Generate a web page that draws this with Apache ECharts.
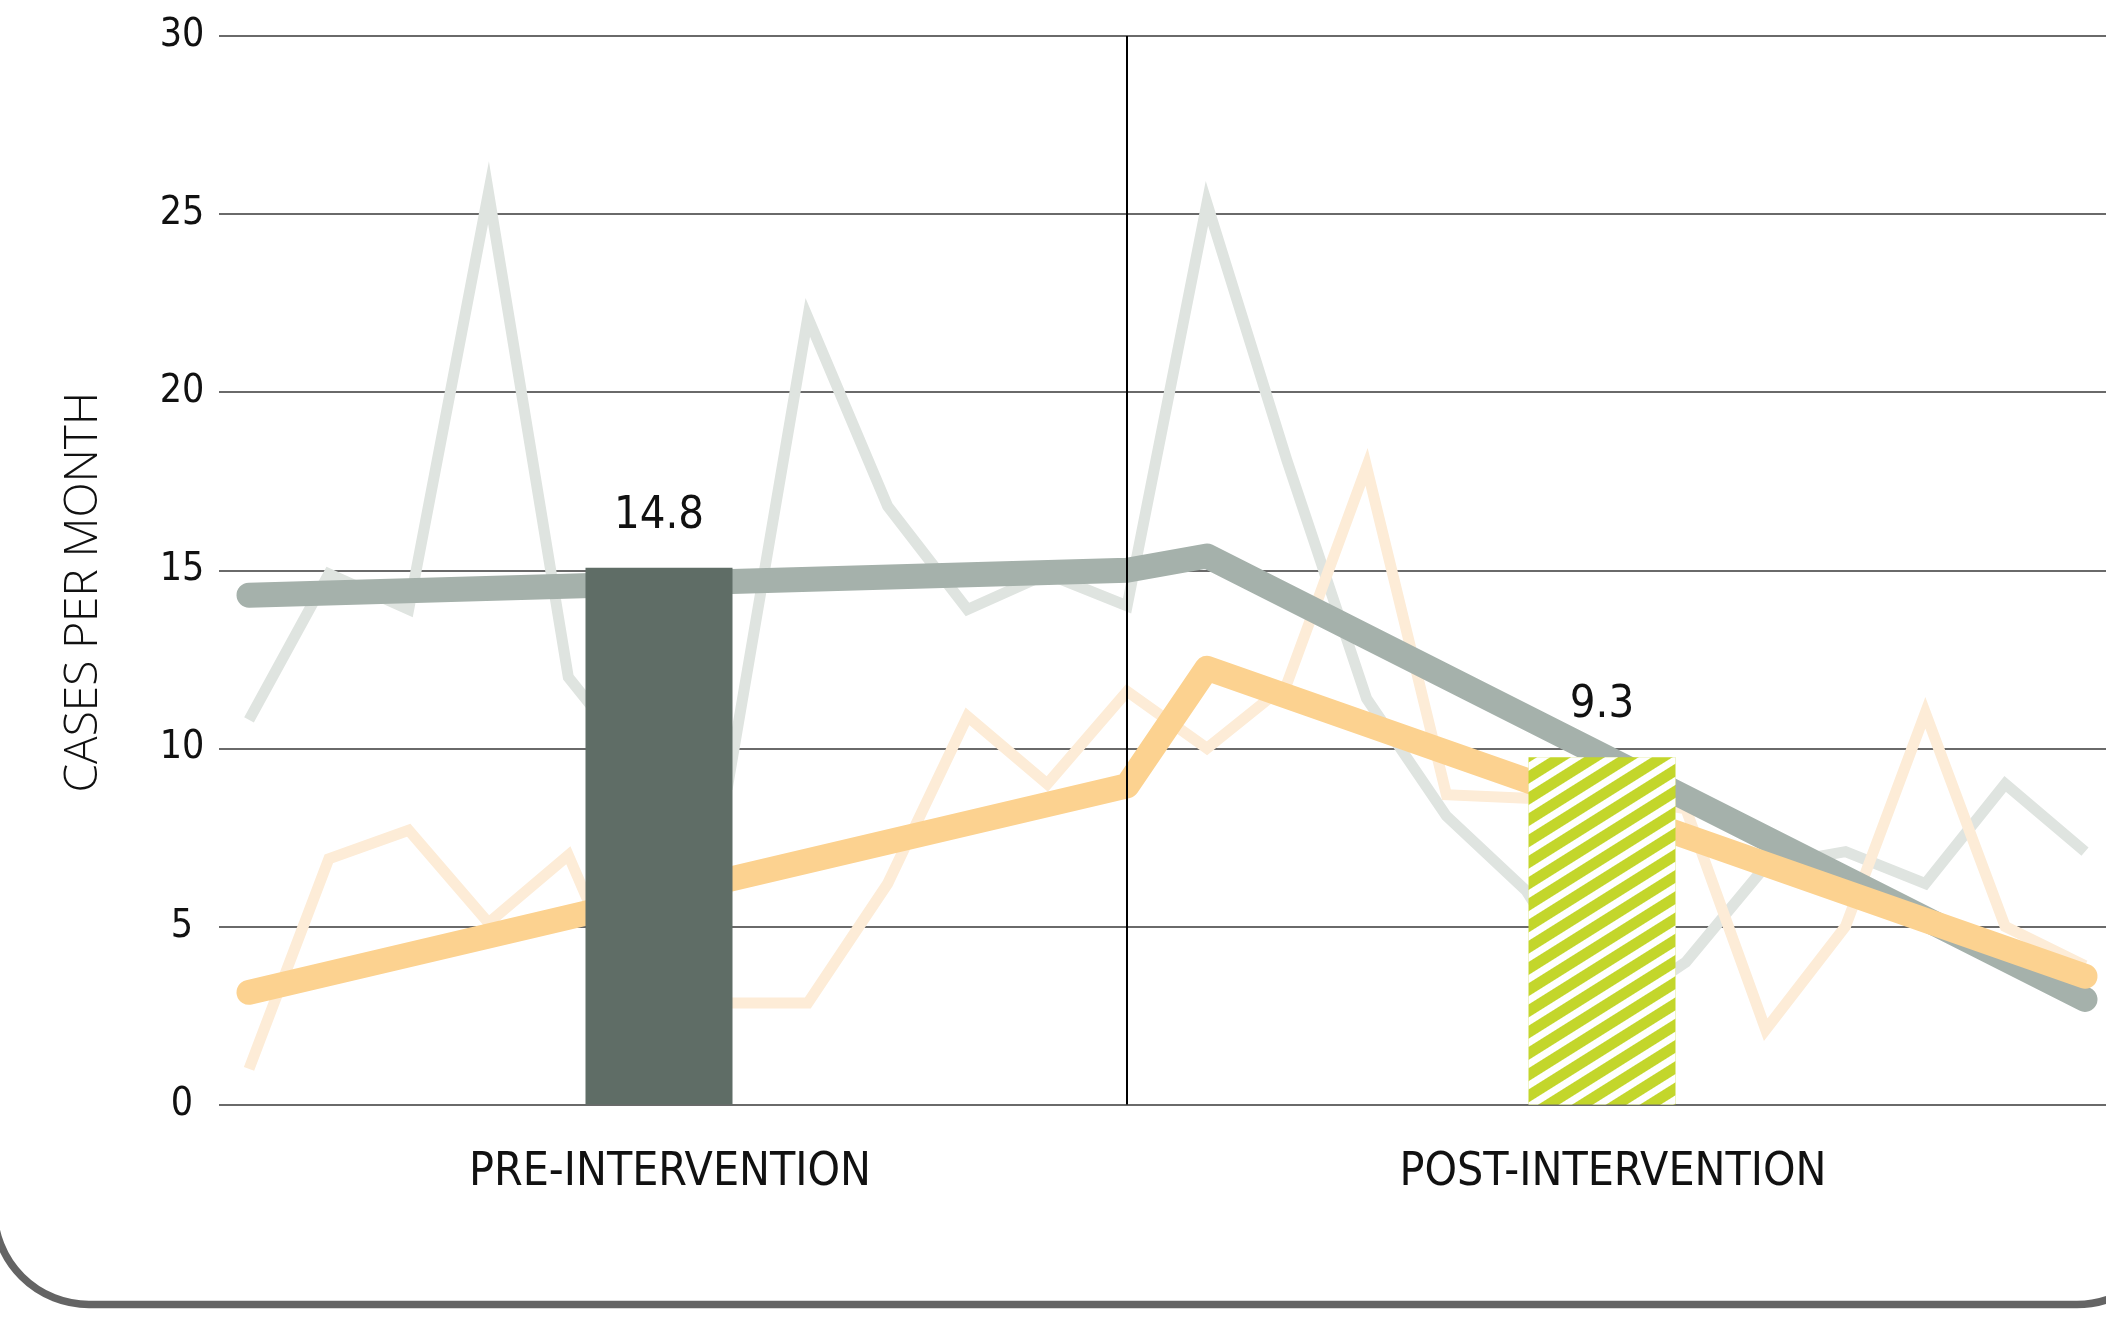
<!DOCTYPE html>
<html>
<head>
<meta charset="utf-8">
<title>Cases per month</title>
<script src="https://cdn.jsdelivr.net/npm/echarts@6/dist/echarts.min.js"></script>
<style>
  html, body { margin: 0; padding: 0; background: #fff; }
  #chart { width: 2106px; height: 1327px; }
</style>
</head>
<body>
<div id="chart"></div>
<script>
// monthly case counts, months 1-12 before the intervention, 13-24 after
const months = [1, 2, 3, 4, 5, 6, 7, 8, 9, 10, 11, 12, 13, 14, 15, 16, 17, 18, 19, 20, 21, 22, 23, 24]
const grayMonthly = [10.8, 14.9, 13.9, 25.6, 12.0, 9.2, 9.0, 22.1, 16.8, 13.9, 14.9, 14.0,
                     25.3, 18.1, 11.4, 8.1, 6.0, 2.5, 4.0, 6.7, 7.1, 6.2, 9.0, 7.1]
const orangeMonthly = [1.0, 6.9, 7.7, 5.1, 7.0, 1.8, 2.85, 2.85, 6.2, 10.9, 9.0, 11.6,
                       10.0, 11.8, 17.9, 8.7, 8.6, 8.7, 8.3, 2.1, 5.0, 11.0, 5.0, 3.9]

// trend segments (pre and post)
const trendMonths = [1, 12, 13, 24]
const grayTrend = [14.3, 15.0, 15.4, 2.95]
const orangeTrend = [3.15, 8.95, 12.25, 3.6]

// period means
const periods = ['PRE-INTERVENTION', 'POST-INTERVENTION']
const periodBars = [15.07, 9.75]
const periodLabels = ['14.8', '9.3']

const interventionMonth = 12
const yMin = 0
const yMax = 30
const yStep = 5

const narrow = '"Liberation Sans Narrow", "DejaVu Sans Condensed", "Liberation Sans", sans-serif'

const pairs = (xs, ys) => xs.map((x, i) => [x, ys[i]])

const chart = echarts.init(document.getElementById('chart'), null, { renderer: 'canvas' })

const option = {
  animation: false,
  backgroundColor: '#fff',
  grid: [
    { left: 219, right: 0, top: 36, bottom: 222.5 },
    { left: 187.5, right: 32.5, top: 36, bottom: 222.5 },
  ],
  xAxis: [
    { type: 'value', gridIndex: 0, min: 0.624, max: 24.263, show: false },
    {
      type: 'category',
      gridIndex: 1,
      data: periods,
      axisLine: { show: false },
      axisTick: { show: false },
      axisLabel: {
        color: '#111',
        fontSize: 46,
        fontFamily: narrow,
        margin: 46,
        padding: [0, 0, 0, 22],
      },
    },
  ],
  yAxis: [
    {
      type: 'value',
      gridIndex: 0,
      min: yMin,
      max: yMax,
      interval: yStep,
      name: 'CASES PER MONTH',
      nameLocation: 'middle',
      nameRotate: 90,
      nameGap: 112,
      nameTextStyle: {
        color: '#111',
        fontSize: 46,
        fontWeight: 300,
        fontFamily: '"Open Sans", "DejaVu Sans", sans-serif',
        padding: [0, 44, 0, 0],
      },
      axisLine: { show: false },
      axisTick: { show: false },
      axisLabel: {
        color: '#111',
        fontSize: 39,
        fontFamily: narrow,
        align: 'center',
        margin: 37,
      },
      splitLine: { lineStyle: { color: '#6a6a6a', width: 2 } },
    },
    { type: 'value', gridIndex: 1, min: yMin, max: yMax, show: false },
  ],
  graphic: [
    {
      type: 'rect',
      silent: true,
      z: -1,
      shape: { x: -6, y: -300, width: 2178, height: 1604.5, r: 95 },
      style: { fill: 'none', stroke: '#646464', lineWidth: 7.5 },
    },
  ],
  series: [
    {
      name: 'gray monthly',
      type: 'line',
      xAxisIndex: 0,
      yAxisIndex: 0,
      data: pairs(months, grayMonthly),
      symbol: 'none',
      z: 1,
      lineStyle: { color: '#dfe4e0', width: 11, cap: 'butt', join: 'miter' },
      markLine: {
        silent: true,
        symbol: ['none', 'none'],
        label: { show: false },
        lineStyle: { color: '#000', width: 2, type: 'solid' },
        data: [{ xAxis: interventionMonth }],
      },
    },
    {
      name: 'orange monthly',
      type: 'line',
      xAxisIndex: 0,
      yAxisIndex: 0,
      data: pairs(months, orangeMonthly),
      symbol: 'none',
      z: 2,
      lineStyle: { color: '#fdecd7', width: 11, cap: 'butt', join: 'miter' },
    },
    {
      name: 'gray trend',
      type: 'line',
      xAxisIndex: 0,
      yAxisIndex: 0,
      data: pairs(trendMonths, grayTrend),
      symbol: 'none',
      z: 3,
      lineStyle: { color: '#a5b1ab', width: 25, cap: 'round', join: 'round' },
    },
    {
      name: 'orange trend',
      type: 'line',
      xAxisIndex: 0,
      yAxisIndex: 0,
      data: pairs(trendMonths, orangeTrend),
      symbol: 'none',
      z: 4,
      lineStyle: { color: '#fcd290', width: 25, cap: 'round', join: 'round' },
    },
    {
      name: 'period mean',
      type: 'bar',
      xAxisIndex: 1,
      yAxisIndex: 1,
      barWidth: 147,
      z: 5,
      data: [
        { value: periodBars[0], itemStyle: { color: '#5f6d66' } },
        {
          value: periodBars[1],
          itemStyle: {
            color: '#c3d62b',
            decal: {
              symbol: 'rect',
              symbolSize: 1,
              color: '#ffffff',
              dashArrayX: [1, 0],
              dashArrayY: [7, 11],
              rotation: -0.56,
            },
          },
        },
      ],
      label: {
        show: true,
        position: 'top',
        distance: 29,
        color: '#111',
        fontSize: 45,
        fontFamily: narrow,
        formatter: (p) => periodLabels[p.dataIndex],
      },
    },
  ],
}

chart.setOption(option)
</script>
</body>
</html>
